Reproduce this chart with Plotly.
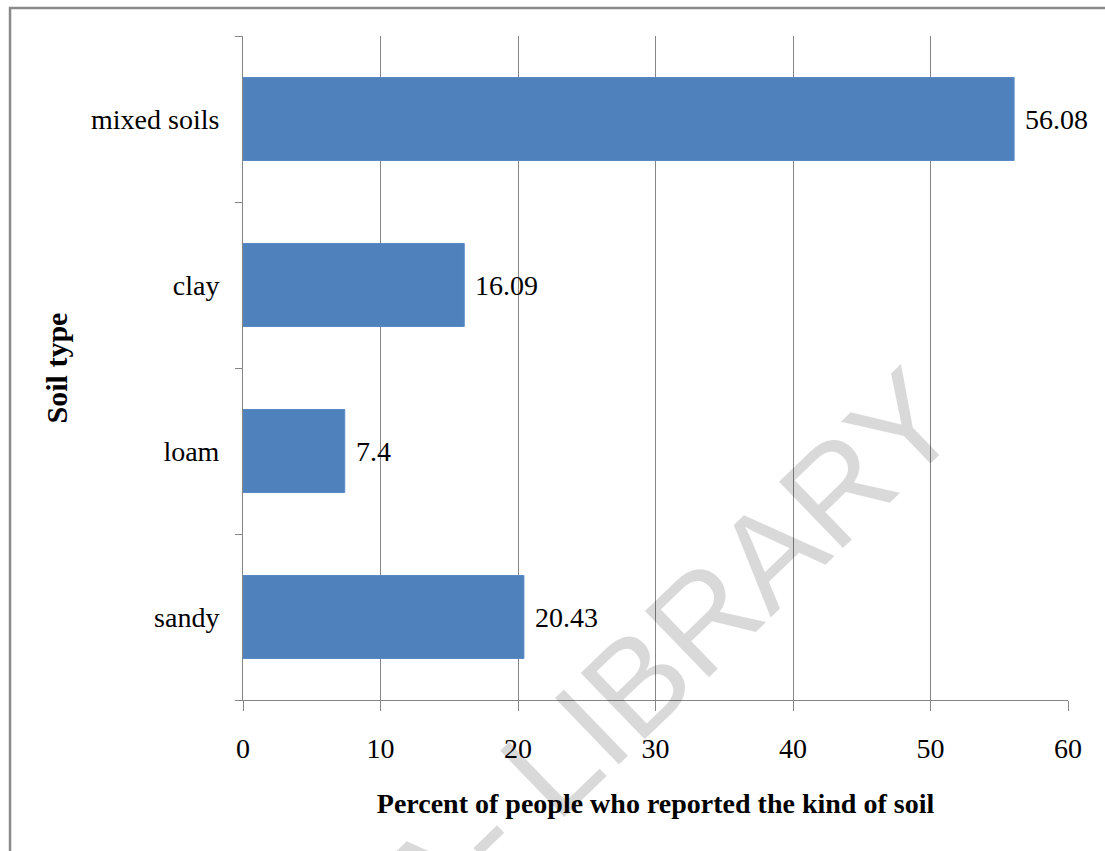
import plotly.graph_objects as go

# Soil types (bottom to top) and share of respondents reporting each
soil_types = ["sandy", "loam", "clay", "mixed soils"]
percent_reported = [20.43, 7.4, 16.09, 56.08]
x_ticks = [0, 10, 20, 30, 40, 50, 60]

SERIF = "Liberation Serif, Times New Roman, serif"
GRID = "#868686"

fig = go.Figure()
fig.add_trace(go.Bar(
    y=soil_types,
    x=percent_reported,
    orientation="h",
    marker=dict(color="#4f81bd", line=dict(color="#5a8ac6", width=1)),
    width=0.5,
    hoverinfo="skip",
))

# value labels just right of each bar end
for cat, val in zip(soil_types, percent_reported):
    fig.add_annotation(
        x=val, y=cat, xref="x", yref="y",
        text=str(val), showarrow=False,
        xanchor="left", yanchor="middle", xshift=9,
        font=dict(family=SERIF, size=28, color="#000000"),
    )

# faint diagonal watermark
fig.add_annotation(
    x=0.515, y=0.071, xref="paper", yref="paper",
    xanchor="center", yanchor="middle",
    text="A- LIBRARY", showarrow=False, textangle=-44,
    font=dict(family="Liberation Sans, Arial, sans-serif", size=134,
              color="rgba(0,0,0,0.15)"),
)

# outer frame (left and top edges visible)
fig.add_shape(type="rect", xref="paper", yref="paper",
              x0=-0.2824, x1=1.06, y0=-0.25, y1=1.0422,
              line=dict(color="#8a8a8a", width=2.5), layer="below")

fig.update_layout(
    width=1105, height=851,
    margin=dict(l=243, r=37, t=36, b=151),
    paper_bgcolor="white", plot_bgcolor="white",
    showlegend=False,
    font=dict(family=SERIF, size=28, color="#000000"),
    bargap=0.5,
)

fig.update_xaxes(
    range=[0, 60], tickvals=x_ticks,
    showgrid=True, gridcolor=GRID, gridwidth=1,
    showline=True, linecolor=GRID, linewidth=1,
    ticks="outside", ticklen=10, tickcolor=GRID,
    ticklabelstandoff=13, zeroline=False,
    tickfont=dict(family=SERIF, size=28),
    title=dict(text="<b>Percent of people who reported the kind of soil</b>",
               font=dict(family=SERIF, size=28), standoff=30),
)
fig.update_yaxes(
    type="category", categoryorder="array", categoryarray=soil_types,
    showgrid=False,
    showline=True, linecolor=GRID, linewidth=1,
    ticks="outside", ticklen=7, tickcolor=GRID, tickson="boundaries",
    ticklabelstandoff=17,
    tickfont=dict(family=SERIF, size=28),
    title=dict(text="<b>Soil type</b>",
               font=dict(family=SERIF, size=30), standoff=14),
)

fig.write_html("out.html")
